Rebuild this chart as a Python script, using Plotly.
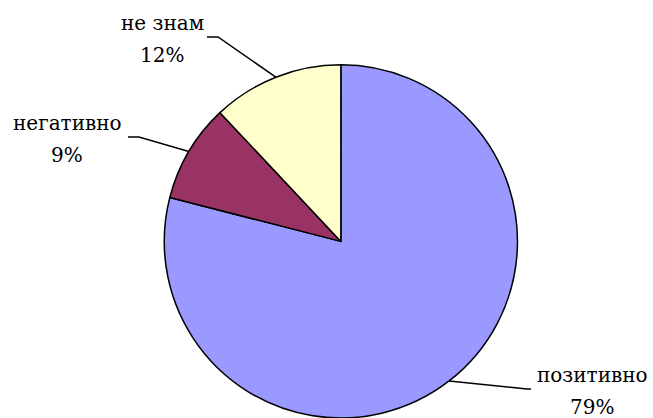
import math
import plotly.graph_objects as go

# Survey answers (percent)
categories = ["позитивно", "негативно", "не знам"]
values = [79, 9, 12]
colors = ["#9999FF", "#993366", "#FFFFCC"]

# Canvas and pie placement
W, H = 653, 418
dom_x = [0.222, 0.822]
dom_y = [0.0, 0.845]

# Label placement (px from top-left): leader end point, side of the text
# block that the leader reaches, and horizontal centre of the text block
label_anchor = {
    "позитивно": (531, 389, "left", 592),
    "негативно": (128, 137, "right", 67),
    "не знам": (207, 37, "right", 162),
}
elbow = 11          # horizontal run of the leader next to the label
name_dy, pct_dy = -14, 18   # text line centres relative to the leader end
font_family = "DejaVu Serif"
font_size = 20

fig = go.Figure(go.Pie(
    labels=categories,
    values=values,
    sort=False,
    direction="clockwise",
    rotation=0,
    marker=dict(colors=colors, line=dict(color="black", width=1.5)),
    textinfo="none",
    hoverinfo="label+percent",
    showlegend=False,
    domain=dict(x=dom_x, y=dom_y),
))

# Pie geometry in pixels, as plotly lays it out
cx = W * (dom_x[0] + dom_x[1]) / 2
cy = H - H * (dom_y[0] + dom_y[1]) / 2
r = min(W * (dom_x[1] - dom_x[0]), H * (dom_y[1] - dom_y[0])) / 2


def to_paper(px, py):
    return px / W, 1 - py / H


total = sum(values)
shapes, annotations = [], []
start = 0.0
for name, val in zip(categories, values):
    span = 360.0 * val / total
    mid = math.radians(start + span / 2)
    start += span
    ex, ey = cx + r * math.sin(mid), cy - r * math.cos(mid)
    ax_, ay_, side, tcx = label_anchor[name]
    bx = ax_ + elbow if side == "right" else ax_ - 4
    pts = [to_paper(ex, ey), to_paper(bx, ay_), to_paper(ax_, ay_)]
    path = "M {:.5f},{:.5f} L {:.5f},{:.5f} L {:.5f},{:.5f}".format(
        *pts[0], *pts[1], *pts[2])
    shapes.append(dict(type="path", xref="paper", yref="paper", path=path,
                       line=dict(color="black", width=1.5)))
    for txt, dy in ((name, name_dy),
                    (f"{round(100 * val / total)}%", pct_dy)):
        tx, ty = to_paper(tcx, ay_ + dy)
        annotations.append(dict(
            x=tx, y=ty, xref="paper", yref="paper", text=txt,
            showarrow=False, xanchor="center", yanchor="middle",
            font=dict(family=font_family, size=font_size, color="black"),
        ))

fig.update_layout(
    width=W, height=H,
    margin=dict(l=0, r=0, t=0, b=0),
    paper_bgcolor="white", plot_bgcolor="white",
    shapes=shapes, annotations=annotations,
)

fig.write_html("out.html")
